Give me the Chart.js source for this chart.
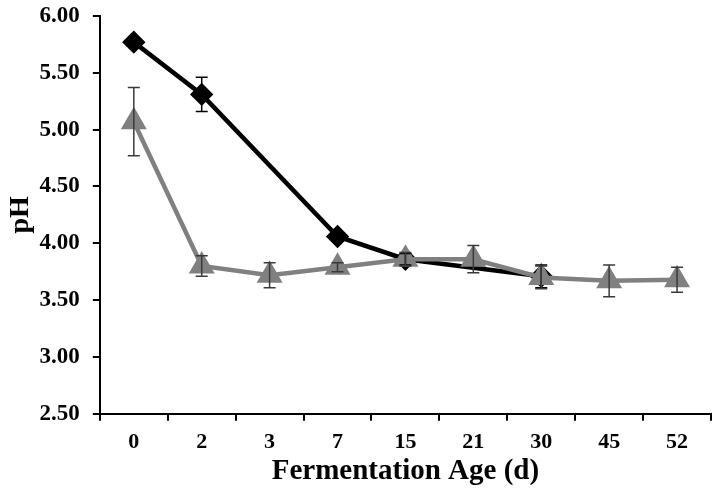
<!DOCTYPE html>
<html>
<head>
<meta charset="utf-8">
<script src="https://cdn.jsdelivr.net/npm/chart.js@4"></script>
<style>
  html, body { margin: 0; padding: 0; background: #fff; }
  #wrap { width: 714px; height: 501px; }
</style>
</head>
<body>
<div id="wrap"><canvas id="phChart" width="714" height="501"></canvas></div>
<script>
// ====== data ======
const days = ['0', '2', '3', '7', '15', '21', '30', '45', '52'];
const blackPH = [5.77, 5.31, null, 4.06, 3.86, null, 3.71, null, null];
const blackErr = [0.01, 0.15, null, 0.02, 0.05, null, 0.10, null, null];
const grayPH = [5.07, 3.80, 3.72, 3.79, 3.86, 3.86, 3.70, 3.67, 3.68];
const grayErr = [0.30, 0.09, 0.11, 0.04, 0.06, 0.12, 0.10, 0.14, 0.11];

// error bars drawn with the chart's own scales
const errorBars = {
  id: 'errorBars',
  afterDatasetsDraw(chart) {
    const ctx = chart.ctx;
    const x = chart.scales.x;
    const y = chart.scales.y;
    chart.data.datasets.forEach(function(ds) {
      if (!ds.errors) return;
      ctx.save();
      ctx.strokeStyle = ds.errorColor;
      ctx.lineWidth = 1.5;
      ds.data.forEach(function(v, i) {
        const e = ds.errors[i];
        if (v == null || e == null) return;
        const px = x.getPixelForValue(i);
        const top = y.getPixelForValue(v + e);
        const bot = y.getPixelForValue(v - e);
        ctx.beginPath();
        ctx.moveTo(px, top); ctx.lineTo(px, bot);
        ctx.moveTo(px - 6, top); ctx.lineTo(px + 6, top);
        ctx.moveTo(px - 6, bot); ctx.lineTo(px + 6, bot);
        ctx.stroke();
      });
      ctx.restore();
    });
  }
};

// drop the label overflow padding so layout.padding sets the plot edges
function noEdgePadding(scale) {
  scale.paddingTop = 0;
  scale.paddingBottom = 0;
  scale.paddingLeft = 0;
  scale.paddingRight = 0;
}

const font = 'Liberation Serif';

new Chart(document.getElementById('phChart').getContext('2d'), {
  type: 'line',
  data: {
    labels: days,
    datasets: [{
      label: 'A',
      data: blackPH,
      errors: blackErr,
      errorColor: '#000000',
      borderColor: '#000000',
      backgroundColor: '#000000',
      borderWidth: 4.5,
      pointStyle: 'rectRot',
      pointRadius: 8.5,
      pointHoverRadius: 8.5,
      spanGaps: true,
      tension: 0,
      order: 2
    }, {
      label: 'B',
      data: grayPH,
      errors: grayErr,
      errorColor: '#3a3a3a',
      borderColor: '#808080',
      backgroundColor: '#808080',
      borderWidth: 4.5,
      pointStyle: 'triangle',
      pointRadius: 10.5,
      pointHoverRadius: 10.5,
      tension: 0,
      order: 1
    }]
  },
  options: {
    responsive: false,
    animation: false,
    layout: { autoPadding: false, padding: { top: 16, right: 3, left: 4, bottom: 0 } },
    plugins: {
      legend: { display: false },
      tooltip: { enabled: false }
    },
    scales: {
      x: {
        offset: true,
        afterFit: noEdgePadding,
        grid: {
          offset: true,
          drawOnChartArea: false,
          drawTicks: true,
          tickLength: 7,
          color: '#000000',
          lineWidth: 2
        },
        border: { display: true, color: '#000000', width: 2 },
        ticks: {
          color: '#000000',
          font: { family: font, size: 22, weight: 'bold' },
          padding: 8,
          maxRotation: 0
        },
        title: {
          display: true,
          text: 'Fermentation Age (d)',
          color: '#000000',
          font: { family: font, size: 29, weight: 'bold' },
          padding: { top: -9, bottom: 12 }
        }
      },
      y: {
        min: 2.5,
        max: 6,
        afterFit: noEdgePadding,
        grid: {
          drawOnChartArea: false,
          drawTicks: true,
          tickLength: 7,
          color: '#000000',
          lineWidth: 2
        },
        border: { display: true, color: '#000000', width: 2 },
        ticks: {
          stepSize: 0.5,
          color: '#000000',
          font: { family: font, size: 23, weight: 'bold' },
          padding: 13,
          callback: function(v) { return v.toFixed(2); }
        },
        title: {
          display: true,
          text: 'pH',
          color: '#000000',
          font: { family: font, size: 28, weight: 'bold' },
          padding: { top: 0, bottom: -11 }
        }
      }
    }
  },
  plugins: [errorBars]
});
</script>
</body>
</html>
